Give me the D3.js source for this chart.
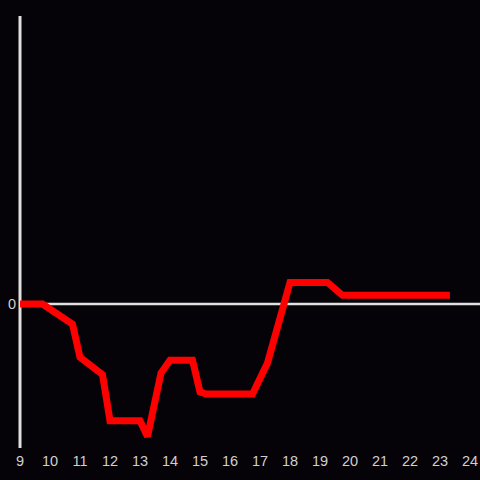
<!DOCTYPE html>
<html>
<head>
<meta charset="utf-8">
<script src="https://cdn.jsdelivr.net/npm/d3@7"></script>
<style>
  html, body { margin: 0; padding: 0; background: #050307; }
  svg { display: block; }
  text { font-family: "Liberation Sans", Arial, sans-serif; }
</style>
</head>
<body>
<div id="chart"></div>
<script>
const width = 480, height = 480;

// hours (x) and values (y)
const hours = [9, 9.75, 10.75, 11, 11.75, 12, 13, 13.25, 13.7, 14, 14.75, 15, 15.2, 16.75, 17.25, 18, 19.25, 19.75, 23.33];
const values = [0, 0, -1.4, -3.7, -4.9, -8.1, -8.1, -9.2, -4.8, -3.9, -3.9, -6.1, -6.25, -6.25, -4.1, 1.5, 1.5, 0.6, 0.6];
const xTicks = [9, 10, 11, 12, 13, 14, 15, 16, 17, 18, 19, 20, 21, 22, 23, 24];
const yTicks = [0];

const data = hours.map((h, i) => ({ h: h, v: values[i] }));

let x = d3.scaleLinear().domain([9, 24]).range([20, 470]);
let y = d3.scaleLinear().domain([-10, 20]).range([448, 16]);

let svg = d3.select("#chart").
append("svg").
attr("width", width).
attr("height", height);

svg.append("rect").
attr("width", width).
attr("height", height).
attr("fill", "#050307");

// zero line
svg.append("line").
attr("x1", x(9)).
attr("x2", width).
attr("y1", y(0)).
attr("y2", y(0)).
attr("stroke", "#e0e0e0").
attr("stroke-width", 2.5);

// y axis line
svg.append("line").
attr("x1", x(9)).
attr("x2", x(9)).
attr("y1", y(20)).
attr("y2", y(-10)).
attr("stroke", "#e0e0e0").
attr("stroke-width", 3);

svg.selectAll(".xlabel").
data(xTicks).
enter().
append("text").
attr("class", "xlabel").
attr("x", d => x(d)).
attr("y", 466).
attr("text-anchor", "middle").
attr("fill", "#d0d0d0").
attr("font-size", 14.5).
text(d => d);

svg.selectAll(".ylabel").
data(yTicks).
enter().
append("text").
attr("class", "ylabel").
attr("x", 16).
attr("y", d => y(d) + 5).
attr("text-anchor", "end").
attr("fill", "#d0d0d0").
attr("font-size", 14.5).
text(d => d);

let line = d3.line().
x(d => x(d.h)).
y(d => y(d.v));

svg.append("path").
datum(data).
attr("d", line).
attr("fill", "none").
attr("stroke", "#ff0000").
attr("stroke-width", 7).
attr("stroke-linejoin", "miter").
attr("stroke-miterlimit", 2);
</script>
</body>
</html>
